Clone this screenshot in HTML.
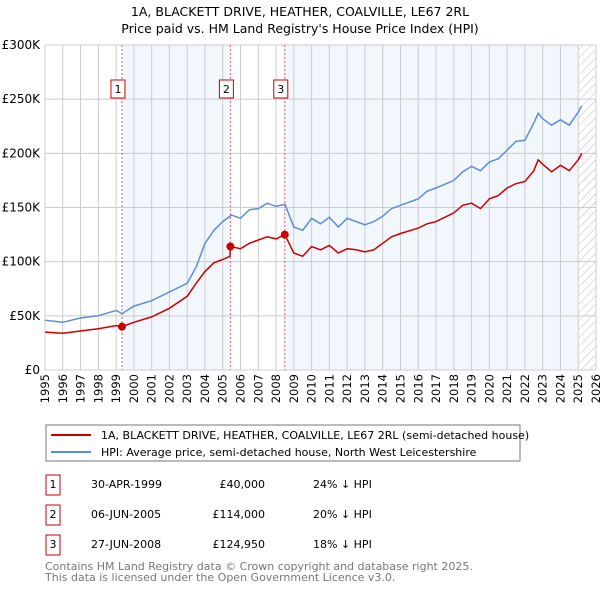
<!DOCTYPE html>
<html><head><meta charset="utf-8"><style>
body{margin:0;background:#fff;width:600px;height:590px;overflow:hidden;font-family:"DejaVu Sans","Liberation Sans",sans-serif}
svg text{font-family:"DejaVu Sans","Liberation Sans",sans-serif}
</style></head><body>
<svg id="chart" width="600" height="590" xmlns="http://www.w3.org/2000/svg">
<text x="300" y="16" text-anchor="middle" font-size="12.5" fill="#000">1A, BLACKETT DRIVE, HEATHER, COALVILLE, LE67 2RL</text>
<text x="300" y="33" text-anchor="middle" font-size="12.5" fill="#000">Price paid vs. HM Land Registry's House Price Index (HPI)</text>
<g id="plot"></g>
<g>
<rect x="46" y="425" width="474" height="36" fill="#fff" stroke="#777" stroke-width="1"/>
<line x1="51" y1="435" x2="91" y2="435" stroke="#cc0000" stroke-width="2"/>
<text x="101" y="439" font-size="11" fill="#000">1A, BLACKETT DRIVE, HEATHER, COALVILLE, LE67 2RL (semi-detached house)</text>
<line x1="51" y1="452" x2="91" y2="452" stroke="#5b8fd6" stroke-width="2"/>
<text x="101" y="456" font-size="11" fill="#000">HPI: Average price, semi-detached house, North West Leicestershire</text>
</g>
<g font-size="11" fill="#000">
<rect x="46" y="475" width="14" height="20" fill="#fff" stroke="#cc0000"/><text x="53" y="488" text-anchor="middle">1</text>
<text x="91" y="488">30-APR-1999</text><text x="265" y="488" text-anchor="end">£40,000</text><text x="313" y="488">24% ↓ HPI</text>
<rect x="46" y="505" width="14" height="20" fill="#fff" stroke="#cc0000"/><text x="53" y="518" text-anchor="middle">2</text>
<text x="91" y="518">06-JUN-2005</text><text x="265" y="518" text-anchor="end">£114,000</text><text x="313" y="518">20% ↓ HPI</text>
<rect x="46" y="535" width="14" height="20" fill="#fff" stroke="#cc0000"/><text x="53" y="548" text-anchor="middle">3</text>
<text x="91" y="548">27-JUN-2008</text><text x="265" y="548" text-anchor="end">£124,950</text><text x="313" y="548">18% ↓ HPI</text>
</g>
<text x="45" y="570" font-size="11" fill="#777">Contains HM Land Registry data © Crown copyright and database right 2025.</text>
<text x="45" y="581" font-size="11" fill="#777">This data is licensed under the Open Government Licence v3.0.</text>
</svg>
<script>
const years=[1995,1996,1997,1998,1999,2000,2001,2002,2003,2004,2005,2006,2007,2008,2009,2010,2011,2012,2013,2014,2015,2016,2017,2018,2019,2020,2021,2022,2023,2024,2025,2026];
const yTicks=[0,50000,100000,150000,200000,250000,300000];
const yTickLabels=["£0","£50K","£100K","£150K","£200K","£250K","£300K"];
const hpiDates=[1995,1996,1997,1998,1999,1999.33,2000,2001,2002,2003,2003.5,2004,2004.5,2005,2005.5,2006,2006.5,2007,2007.5,2008,2008.5,2009,2009.5,2010,2010.5,2011,2011.5,2012,2012.5,2013,2013.5,2014,2014.5,2015,2016,2016.5,2017,2018,2018.5,2019,2019.5,2020,2020.5,2021,2021.5,2022,2022.5,2022.75,2023,2023.5,2024,2024.5,2025,2025.2];
const hpiValues=[46,44,48,50,55,52,59,64,72,80,95,117,129,137,143,140,148,149,154,151,153,132,129,140,135,141,132,140,137,134,137,142,149,152,158,165,168,175,183,188,184,192,195,203,211,212,228,237,232,226,231,226,238,244];
const redDates=[1995,1996,1997,1998,1999,1999.33,2000,2001,2002,2003,2003.5,2004,2004.5,2005,2005.4,2005.43,2006,2006.5,2007,2007.5,2008,2008.49,2009,2009.5,2010,2010.5,2011,2011.5,2012,2012.5,2013,2013.5,2014,2014.5,2015,2016,2016.5,2017,2018,2018.5,2019,2019.5,2020,2020.5,2021,2021.5,2022,2022.5,2022.75,2023,2023.5,2024,2024.5,2025,2025.2];
const redValues=[35,34,36,38,41,40,44,49,57,68,80,91,99,102,105,114,112,117,120,123,121,125,108,105,114,111,115,108,112,111,109,111,117,123,126,131,135,137,145,152,154,149,158,161,168,172,174,184,194,190,183,189,184,194,200];
const saleDates=[1999.33,2005.43,2008.49];
const salePrices=[40000,114000,124950];
const saleLabels=["1","2","3"];

const NS="http://www.w3.org/2000/svg";
const X0=45,X1=596,Y0=370,Y1=45;
const xs=t=>X0+(t-1995)/(2026-1995)*(X1-X0);
const ys=v=>Y0-v/300000*(Y0-Y1);
const plot=document.getElementById('plot');
function mk(tag,attrs,parent){const e=document.createElementNS(NS,tag);for(const k in attrs)e.setAttribute(k,attrs[k]);(parent||plot).appendChild(e);return e;}

// shading
const s1=mk('rect',{x:xs(saleDates[0]),y:Y1,width:xs(saleDates[1])-xs(saleDates[0]),height:Y0-Y1,fill:'#eef3fc',opacity:0.75});


const s2=mk('rect',{x:xs(saleDates[2]),y:Y1,width:xs(2025)-xs(saleDates[2]),height:Y0-Y1,fill:'#eef3fc',opacity:0.75});


// hatch
const defs=mk('defs',{});
const pat=mk('pattern',{id:'hatch',width:6,height:6,patternUnits:'userSpaceOnUse',patternTransform:'rotate(45)'},defs);
mk('line',{x1:0,y1:0,x2:0,y2:6,stroke:'#bbb','stroke-width':1},pat);
const h=mk('rect',{x:xs(2025),y:Y1,width:X1-xs(2025),height:Y0-Y1,fill:'url(#hatch)'});


// grid
years.forEach(y=>{
  const l=mk('line',{x1:xs(y),y1:Y1,x2:xs(y),y2:Y0,stroke:'#ccc','stroke-width':1});
  
  
  const t=mk('text',{x:0,y:0,transform:`translate(${xs(y)+4},374) rotate(-90)`,'text-anchor':'end','font-size':11.5,fill:'#000'});
  t.textContent=y;
  
  
});
yTicks.forEach((v,i)=>{
  const l=mk('line',{x1:X0,y1:ys(v),x2:X1,y2:ys(v),stroke:'#ccc','stroke-width':1});
  
  
  const t=mk('text',{x:40,y:ys(v)+4,'text-anchor':'end','font-size':12,fill:'#000'});
  t.textContent=yTickLabels[i];
  
  
});
// sale markers lines & boxes
saleDates.forEach((d,i)=>{
  const l=mk('line',{x1:xs(d),y1:Y1,x2:xs(d),y2:Y0,stroke:'#e06060','stroke-width':1,'stroke-dasharray':'2,2'});
  
  
  const b=mk('rect',{x:xs(d)-11,y:80,width:14,height:18,fill:'#fff',stroke:'#cc0000'});
  
  
  const t=mk('text',{x:xs(d)-4,y:93,'text-anchor':'middle','font-size':11,fill:'#000'});
  t.textContent=saleLabels[i];
  
  
});
// series
const hp=mk('path',{d:hpiDates.map((d,i)=>(i?'L':'M')+xs(d).toFixed(1)+','+ys(hpiValues[i]*1000).toFixed(1)).join(''),fill:'none',stroke:'#5b8fd6','stroke-width':1.5});


const rp=mk('path',{d:redDates.map((d,i)=>(i?'L':'M')+xs(d).toFixed(1)+','+ys(redValues[i]*1000).toFixed(1)).join(''),fill:'none',stroke:'#cc0000','stroke-width':1.5});


saleDates.forEach((d,i)=>{
  const c=mk('circle',{cx:xs(d),cy:ys(salePrices[i]),r:4,fill:'#cc0000'});
  
  
});
</script>
</body></html>
